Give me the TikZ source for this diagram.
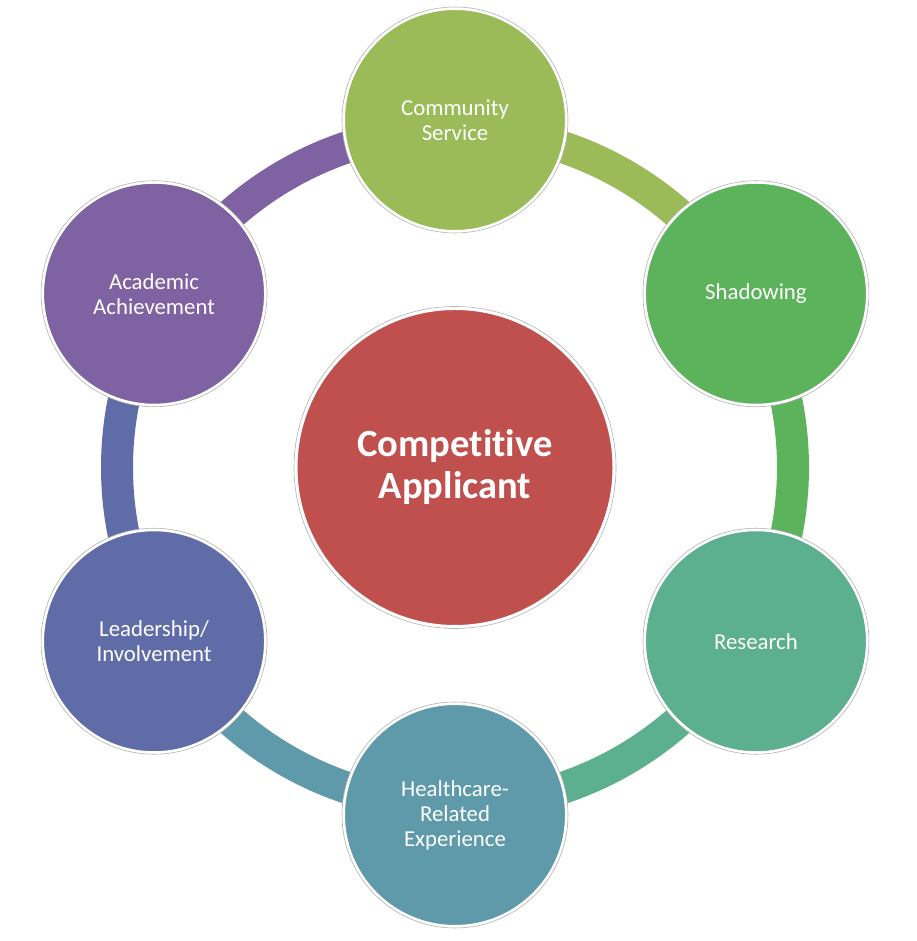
\documentclass[tikz,border=0pt]{standalone}
\usepackage{fontspec}
\setmainfont[Ligatures=NoCommon]{Carlito}
\usetikzlibrary{calc}
\definecolor{cCom}{HTML}{9BBB59}
\definecolor{cSha}{HTML}{5DB35B}
\definecolor{cRes}{HTML}{5CB08F}
\definecolor{cHea}{HTML}{5E9AAA}
\definecolor{cLea}{HTML}{5F6CA8}
\definecolor{cAca}{HTML}{7F62A1}
\definecolor{cCen}{HTML}{C0504D}
\begin{document}
\begin{tikzpicture}[x=1pt,y=1pt,
  outer/.style={circle, minimum size=223pt, inner sep=0pt, draw=white, line width=3pt,
    text=white, align=center, font=\fontsize{22.8}{25}\selectfont},
  cenbox/.style={circle, minimum size=318pt, inner sep=0pt, draw=white, line width=3pt,
    text=white, align=center, font=\fontsize{38.5}{42}\selectfont\bfseries, fill=cCen},
  rim/.style={draw=black!30, line width=0.6pt},
  ring/.style={line width=32pt}]
\useasboundingbox (0,0) rectangle (916,941);
\coordinate (C) at (455,473.5);
% ring segments
\draw[ring, cCom] (C) ++(90:338) arc[start angle=90, end angle=30, radius=338];
\draw[ring, cSha] (C) ++(30:338) arc[start angle=30, end angle=-30, radius=338];
\draw[ring, cRes] (C) ++(-30:338) arc[start angle=-30, end angle=-90, radius=338];
\draw[ring, cHea] (C) ++(-90:338) arc[start angle=-90, end angle=-150, radius=338];
\draw[ring, cLea] (C) ++(-150:338) arc[start angle=-150, end angle=-210, radius=338];
\draw[ring, cAca] (C) ++(150:338) arc[start angle=150, end angle=90, radius=338];
% nodes
\node[cenbox] (cen) at (C) {Competitive\\Applicant};
\node[outer, fill=cCom] (com) at ($(C)+(90:347.5)$) {Community\\Service};
\node[outer, fill=cSha] (sha) at ($(C)+(30:347.5)$) {Shadowing};
\node[outer, fill=cRes] (res) at ($(C)+(-30:347.5)$) {Research};
\node[outer, fill=cHea] (hea) at ($(C)+(-90:347.5)$) {Healthcare-\\Related\\Experience};
\node[outer, fill=cLea] (lea) at ($(C)+(-150:347.5)$) {Leadership/\\Involvement};
\node[outer, fill=cAca] (aca) at ($(C)+(150:347.5)$) {Academic\\Achievement};
\foreach \n in {com,sha,res,hea,lea,aca} {\draw[rim] (\n.center) circle (113);}
\draw[rim] (cen.center) circle (161);
\end{tikzpicture}
\end{document}
